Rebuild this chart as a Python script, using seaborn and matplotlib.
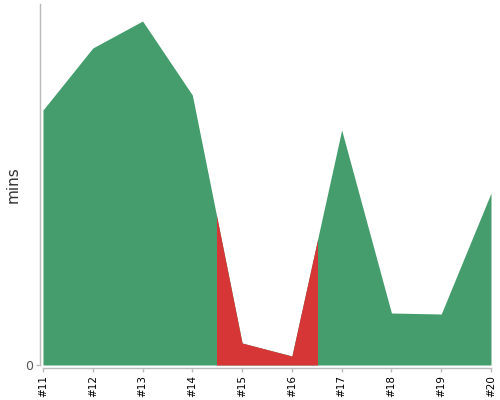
import matplotlib
matplotlib.use("Agg")
import matplotlib.pyplot as plt
import matplotlib.patches as mpatches
import seaborn as sns

# data
labels = ['#11', '#12', '#13', '#14', '#15', '#16', '#17', '#18', '#19', '#20']
mins = [255, 317, 344, 270, 22, 9, 235, 52, 51, 172]
red_span = (3.5, 5.5)  # between #14 and #17, shaded red

sns.set_style("white")
plt.rcParams['font.family'] = ['DejaVu Sans']

fig = plt.figure(figsize=(5, 4), dpi=100)
ax = fig.add_axes([43 / 500, 35 / 400, 448 / 500, 361 / 400])

x = list(range(len(labels)))
ax.fill_between(x, 0, mins, color='#459d6d', linewidth=0)
red = ax.fill_between(x, 0, mins, color='#d63636', linewidth=0)
clip = mpatches.Rectangle((red_span[0], 0), red_span[1] - red_span[0], 1000,
                          transform=ax.transData, fill=False, visible=False)
ax.add_patch(clip)
red.set_clip_path(clip)

ax.set_xlim(0, len(labels) - 1)
ax.set_ylim(0, 361)
ax.set_xticks(x)
ax.set_xticklabels(labels)
ax.set_yticks([0])
ax.set_yticklabels(['0'])
ax.set_ylabel('mins', fontsize=11, color='#333333', labelpad=3)

sns.despine(ax=ax)
for side in ['left', 'bottom']:
    ax.spines[side].set_position(('outward', 2.2))
    ax.spines[side].set_color('#bbbbbb')
    ax.spines[side].set_linewidth(1)
ax.tick_params(axis='both', length=3, width=1, color='#bbbbbb', pad=2,
               bottom=True, left=True)
ax.tick_params(axis='x', labelrotation=90, labelsize=7.5, labelcolor='black')
ax.tick_params(axis='y', labelsize=9, labelcolor='#555555')

fig.savefig('out.png', dpi=100)
